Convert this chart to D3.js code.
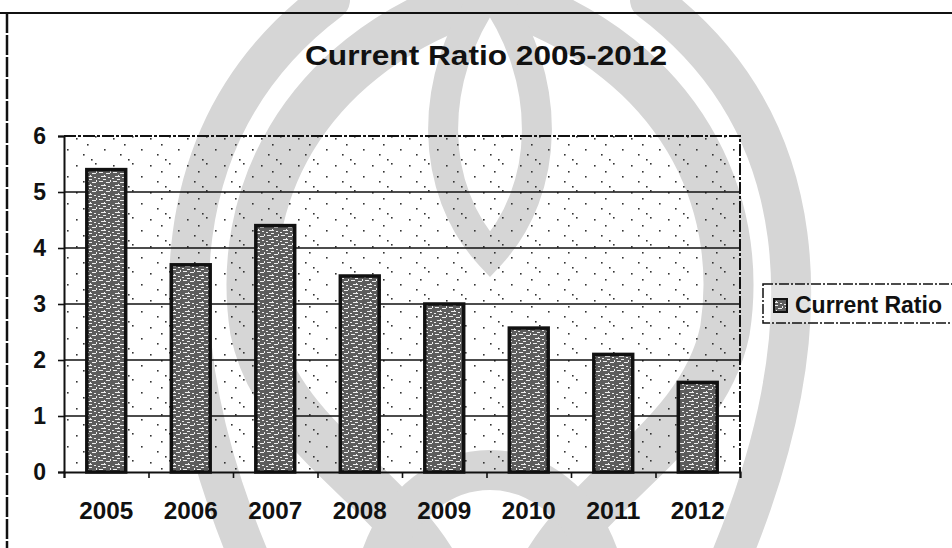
<!DOCTYPE html>
<html>
<head>
<meta charset="utf-8">
<script src="https://cdn.jsdelivr.net/npm/d3@7"></script>
<style>
  body { margin: 0; background: #fff; }
  text { font-family: "Liberation Sans", Arial, sans-serif; font-weight: bold; fill: #111; }
</style>
</head>
<body>
<script>
// data
var years = ["2005", "2006", "2007", "2008", "2009", "2010", "2011", "2012"];
var currentRatio = [5.4, 3.7, 4.4, 3.5, 3.0, 2.57, 2.1, 1.6];
var yTicks = [0, 1, 2, 3, 4, 5, 6];

var W = 952, H = 548;
var plot = { left: 64, right: 740, top: 136, bottom: 472 };

var svg = d3.select("body").append("svg")
    .attr("width", W)
    .attr("height", H);

var defs = svg.append("defs");

// texture of the bars (dark stipple)
var pb = defs.append("pattern").attr("id", "barFill")
    .attr("patternUnits", "userSpaceOnUse").attr("width", 14).attr("height", 9);
pb.append("rect").attr("width", 14).attr("height", 9).attr("fill", "#5c5c5c");
[[1, 1, 4, 1], [8, 2, 4, 1], [3, 5, 5, 1], [10, 6, 2, 1], [0, 7, 2, 1], [6, 4, 1, 1], [12, 0, 1, 2], [5, 8, 3, 1]]
    .forEach(function (r) {
        pb.append("rect").attr("x", r[0]).attr("y", r[1]).attr("width", r[2]).attr("height", r[3]).attr("fill", "#eeeeee");
    });

// sparse dots on the plot background
var pd = defs.append("pattern").attr("id", "dots")
    .attr("patternUnits", "userSpaceOnUse").attr("width", 37).attr("height", 27);
[[2, 3], [21, 1], [30, 14], [9, 19], [17, 24], [13, 9]].forEach(function (p) {
    pd.append("rect").attr("x", p[0]).attr("y", p[1]).attr("width", 1.6).attr("height", 1.6).attr("fill", "#333");
});

// watermark behind everything
var wm = svg.append("g").attr("fill", "none").attr("stroke", "#d6d6d6").attr("stroke-linecap", "round");
wm.append("path").attr("stroke-width", 50)
    .attr("d", "M470,0 C300,60 235,200 255,330 C275,430 380,480 430,560");
wm.append("path").attr("stroke-width", 50)
    .attr("d", "M510,0 C680,60 745,200 725,330 C705,430 600,480 550,560");
wm.append("path").attr("stroke-width", 30)
    .attr("d", "M490,-10 C425,80 430,190 490,255 C550,190 555,80 490,-10 Z");
wm.append("path").attr("stroke-width", 40)
    .attr("d", "M330,0 C170,120 150,320 250,560");
wm.append("path").attr("stroke-width", 40)
    .attr("d", "M650,0 C810,120 830,320 730,560");
wm.append("path").attr("stroke-width", 40)
    .attr("d", "M380,560 C420,440 560,440 600,560");

// frame of the scan
svg.append("line").attr("x1", 0).attr("x2", W).attr("y1", 13).attr("y2", 13)
    .attr("stroke", "#111").attr("stroke-width", 2);
svg.append("line").attr("x1", 7).attr("x2", 7).attr("y1", 13).attr("y2", H)
    .attr("stroke", "#111").attr("stroke-width", 2.5).attr("stroke-dasharray", "20,2");

var x = d3.scaleBand().domain(years).range([plot.left, plot.right]).paddingInner(0.54).paddingOuter(0.27);
var xEdge = d3.scaleLinear().domain([0, years.length]).range([plot.left, plot.right]);
var y = d3.scaleLinear().domain([0, 6]).range([plot.bottom, plot.top]);

// plot area
svg.append("rect")
    .attr("x", plot.left).attr("y", plot.top)
    .attr("width", plot.right - plot.left).attr("height", plot.bottom - plot.top)
    .attr("fill", "url(#dots)");
svg.append("path")
    .attr("d", "M" + plot.left + "," + plot.top + "H" + plot.right + "V" + plot.bottom)
    .attr("fill", "none").attr("stroke", "#111").attr("stroke-width", 2).attr("stroke-dasharray", "12,2,3,2");

// gridlines
svg.append("g").selectAll("line")
    .data(yTicks.filter(function (d) { return d > 0 && d < 6; }))
    .join("line")
    .attr("x1", plot.left).attr("x2", plot.right)
    .attr("y1", function (d) { return y(d); }).attr("y2", function (d) { return y(d); })
    .attr("stroke", "#111").attr("stroke-width", 1.6);

// bars
svg.append("g").selectAll("rect")
    .data(currentRatio)
    .join("rect")
    .attr("x", function (d, i) { return x(years[i]); })
    .attr("y", function (d) { return y(d); })
    .attr("width", x.bandwidth())
    .attr("height", function (d) { return y(0) - y(d); })
    .attr("fill", "url(#barFill)")
    .attr("stroke", "#111").attr("stroke-width", 3.5);

// y axis
var yAxis = svg.append("g")
    .attr("transform", "translate(" + plot.left + ",0)")
    .call(d3.axisLeft(y).tickValues(yTicks).tickSize(6).tickPadding(12).tickFormat(d3.format("d")));
yAxis.select(".domain").attr("stroke", "#111").attr("stroke-width", 2);
yAxis.selectAll(".tick line").attr("stroke", "#111").attr("stroke-width", 1.6);
yAxis.selectAll("text").style("font-size", "23px").attr("fill", "#111");

// x axis: ticks at the category edges, labels at the centres
var xTickAxis = svg.append("g")
    .attr("transform", "translate(0," + plot.bottom + ")")
    .call(d3.axisBottom(xEdge).tickValues(d3.range(0, years.length + 1)).tickSize(6).tickFormat(""));
xTickAxis.select(".domain").attr("stroke", "#111").attr("stroke-width", 2);
xTickAxis.selectAll(".tick line").attr("stroke", "#111").attr("stroke-width", 1.6);

var xAxis = svg.append("g")
    .attr("transform", "translate(0," + plot.bottom + ")")
    .call(d3.axisBottom(x).tickSize(0).tickPadding(30));
xAxis.select(".domain").remove();
xAxis.selectAll("text").style("font-size", "24px").attr("fill", "#111")
    .attr("textLength", 54).attr("lengthAdjust", "spacingAndGlyphs");

// title
svg.append("text")
    .attr("x", 486).attr("y", 65)
    .attr("text-anchor", "middle")
    .style("font-size", "28px")
    .attr("textLength", 362).attr("lengthAdjust", "spacingAndGlyphs")
    .text("Current Ratio 2005-2012");

// legend
var legend = svg.append("g");
legend.append("rect")
    .attr("x", 763).attr("y", 284).attr("width", 200).attr("height", 39)
    .attr("fill", "#fff").attr("fill-opacity", 0.3)
    .attr("stroke", "#111").attr("stroke-width", 1.5).attr("stroke-dasharray", "10,2,2,2");
legend.append("rect")
    .attr("x", 774).attr("y", 299).attr("width", 13).attr("height", 13)
    .attr("fill", "url(#barFill)").attr("stroke", "#111").attr("stroke-width", 2);
legend.append("text")
    .attr("x", 795).attr("y", 313)
    .style("font-size", "23px")
    .text("Current Ratio");
</script>
</body>
</html>
